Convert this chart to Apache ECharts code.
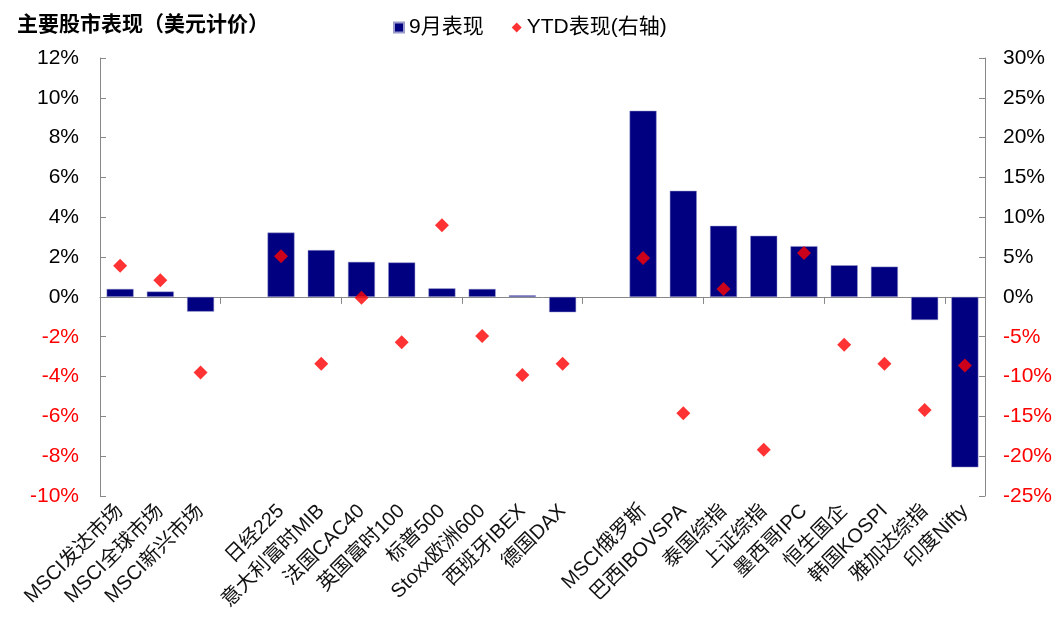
<!DOCTYPE html>
<html>
<head>
<meta charset="utf-8">
<script src="https://cdn.jsdelivr.net/npm/echarts@6/dist/echarts.min.js"></script>
<style>
html, body { margin: 0; padding: 0; background: #fff; }
#main { width: 1061px; height: 633px; }
</style>
</head>
<body>
<div id="main"></div>
<script>
var categories = ['MSCI发达市场', 'MSCI全球市场', 'MSCI新兴市场', '', '日经225', '意大利富时MIB', '法国CAC40', '英国富时100',
    '标普500', 'Stoxx欧洲600', '西班牙IBEX', '德国DAX', '', 'MSCI俄罗斯', '巴西IBOVSPA', '泰国综指', '上证综指',
    '墨西哥IPC', '恒生国企', '韩国KOSPI', '雅加达综指', '印度Nifty'];

// 9月表现 (左轴, %)
var septPerf = [0.40, 0.27, -0.74, null, 3.23, 2.35, 1.76, 1.73, 0.43, 0.40, 0.08, -0.77, null,
    9.35, 5.33, 3.57, 3.07, 2.55, 1.59, 1.52, -1.16, -8.56];

// YTD表现 (右轴, %)
var ytdPerf = [3.9, 2.1, -9.5, null, 5.1, -8.4, -0.1, -5.7, 9.0, -4.9, -9.8, -8.4, null,
    4.9, -14.6, 1.0, -19.2, 5.5, -6.0, -8.4, -14.2, -8.6];

var fontFam = '"Liberation Sans", "Noto Sans CJK SC", sans-serif';

var negRed = function (value) {
    return value < 0 ? '#ff0000' : '#000000';
};

var myChart = echarts.init(document.getElementById('main'));

var option = {
    backgroundColor: '#ffffff',
    animation: false,
    title: {
        text: '主要股市表现（美元计价）',
        left: 12,
        top: 10,
        textStyle: { fontSize: 21, fontWeight: 'bold', color: '#000', fontFamily: fontFam }
    },
    legend: {
        left: 388,
        top: 12,
        itemWidth: 10,
        itemHeight: 10,
        itemGap: 28,
        textStyle: { fontSize: 21, color: '#000', fontFamily: fontFam },
        data: [
            { name: '9月表现', icon: 'rect' },
            { name: 'YTD表现(右轴)', icon: 'diamond' }
        ]
    },
    grid: {
        left: 100,
        right: 76,
        top: 58,
        bottom: 137
    },
    xAxis: [
        {
            type: 'category',
            data: categories,
            position: 'bottom',
            axisLine: { show: false, onZero: false },
            axisTick: { show: false },
            axisLabel: {
                interval: 0,
                rotate: 45,
                margin: 12,
                fontSize: 20,
                color: '#111',
                fontFamily: fontFam
            }
        },
        {
            type: 'category',
            data: categories,
            position: 'bottom',
            axisLine: { show: true, onZero: true, onZeroAxisIndex: 0, lineStyle: { color: '#888', width: 1 } },
            axisTick: { show: true, length: 7, lineStyle: { color: '#888' } },
            axisLabel: { show: false }
        }
    ],
    yAxis: [
        {
            type: 'value',
            min: -10,
            max: 12,
            interval: 2,
            axisLine: { show: true, lineStyle: { color: '#888' } },
            axisTick: { show: true, inside: true, length: 6, lineStyle: { color: '#888' } },
            splitLine: { show: false },
            axisLabel: {
                fontSize: 21,
                margin: 21,
                fontFamily: fontFam,
                formatter: '{value}%',
                color: negRed
            }
        },
        {
            type: 'value',
            min: -25,
            max: 30,
            interval: 5,
            position: 'right',
            axisLine: { show: true, lineStyle: { color: '#888' } },
            axisTick: { show: true, inside: true, length: 6, lineStyle: { color: '#888' } },
            splitLine: { show: false },
            axisLabel: {
                fontSize: 21,
                margin: 18,
                fontFamily: fontFam,
                formatter: '{value}%',
                color: negRed
            }
        }
    ],
    series: [
        {
            name: '9月表现',
            type: 'bar',
            xAxisIndex: 0,
            yAxisIndex: 0,
            barWidth: 27,
            itemStyle: { color: '#000080', borderColor: '#9a9acc', borderWidth: 0.5 },
            data: septPerf
        },
        {
            name: 'YTD表现(右轴)',
            type: 'scatter',
            xAxisIndex: 0,
            yAxisIndex: 1,
            symbol: 'diamond',
            symbolSize: 14,
            itemStyle: { color: '#ff0000' },
            data: ytdPerf
        }
    ]
};

myChart.setOption(option);
</script>
</body>
</html>
